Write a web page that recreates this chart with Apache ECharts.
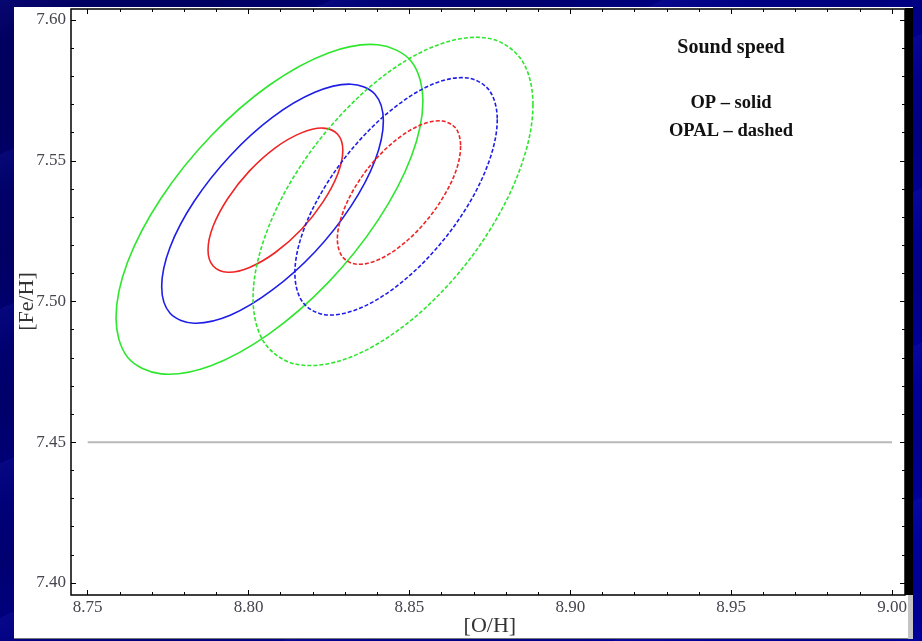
<!DOCTYPE html>
<html>
<head>
<meta charset="utf-8">
<script src="https://cdn.jsdelivr.net/npm/echarts@6/dist/echarts.min.js"></script>
<style>
  html, body { margin: 0; padding: 0; }
  body {
    width: 922px; height: 641px; overflow: hidden; position: relative;
    background:
      repeating-linear-gradient(155deg, rgba(40,40,200,0.18) 0px, rgba(40,40,200,0.0) 40px, rgba(0,0,60,0.15) 90px, rgba(40,40,200,0.0) 140px),
      linear-gradient(135deg, #00005e 0%, #000085 50%, #0000a0 100%);
  }
  #panel { position: absolute; left: 14px; top: 7px; width: 899px; height: 632px; background: #ffffff; border-bottom: 1px solid #777; box-sizing: border-box; }
  #edge { position: absolute; left: 905px; top: 8px; width: 8px; height: 587px; background: #000; }
  #edge2 { position: absolute; left: 908px; top: 595px; width: 5px; height: 44px; background: #c4c4c4; }
  #chart { position: absolute; left: 0; top: 0; width: 922px; height: 641px; }
</style>
</head>
<body>
<div id="panel"></div>
<div id="edge"></div>
<div id="edge2"></div>
<div id="chart"></div>
<script>
// Axis extents and tick spacing
const xRange = [8.75, 9.00];
const yRange = [7.40, 7.60];
const xStep = 0.05;
const yStep = 0.05;

// Reference level for [Fe/H]
const feRefLine = [[8.75, 7.45], [9.00, 7.45]];

// Confidence contours, OP opacities (solid)
const opInner = [[8.8293,7.5537],[8.8277,7.5452],[8.8231,7.5353],[8.8164,7.5256],[8.8083,7.5174],[8.8003,7.5121],[8.7936,7.5104],[8.7890,7.5126],[8.7874,7.5183],[8.7890,7.5268],[8.7936,7.5367],[8.8003,7.5464],[8.8083,7.5546],[8.8164,7.5599],[8.8231,7.5616],[8.8277,7.5594]];
const opMiddle = [[8.8419,7.5641],[8.8393,7.5501],[8.8318,7.5338],[8.8206,7.5176],[8.8074,7.5041],[8.7943,7.4951],[8.7831,7.4923],[8.7756,7.4958],[8.7730,7.5053],[8.7756,7.5193],[8.7831,7.5356],[8.7943,7.5518],[8.8074,7.5654],[8.8206,7.5743],[8.8318,7.5772],[8.8393,7.5736]];
const opOuter = [[8.8542,7.5713],[8.8506,7.5515],[8.8402,7.5288],[8.8248,7.5068],[8.8065,7.4886],[8.7883,7.4772],[8.7728,7.4743],[8.7624,7.4802],[8.7588,7.4942],[8.7624,7.5140],[8.7728,7.5367],[8.7883,7.5588],[8.8065,7.5769],[8.8248,7.5883],[8.8402,7.5912],[8.8506,7.5853]];

// Confidence contours, OPAL opacities (dashed)
const opalInner = [[8.8659,7.5552],[8.8645,7.5465],[8.8603,7.5367],[8.8541,7.5271],[8.8468,7.5193],[8.8394,7.5144],[8.8332,7.5133],[8.8291,7.5160],[8.8276,7.5222],[8.8291,7.5309],[8.8332,7.5408],[8.8394,7.5504],[8.8468,7.5582],[8.8541,7.5630],[8.8603,7.5641],[8.8645,7.5614]];
const opalMiddle = [[8.8773,7.5647],[8.8749,7.5503],[8.8681,7.5340],[8.8579,7.5182],[8.8459,7.5053],[8.8339,7.4973],[8.8237,7.4953],[8.8168,7.4998],[8.8144,7.5100],[8.8168,7.5244],[8.8237,7.5407],[8.8339,7.5565],[8.8459,7.5694],[8.8579,7.5775],[8.8681,7.5794],[8.8749,7.5749]];
const opalOuter = [[8.8884,7.5700],[8.8851,7.5494],[8.8757,7.5267],[8.8616,7.5053],[8.8449,7.4885],[8.8283,7.4789],[8.8141,7.4779],[8.8047,7.4857],[8.8014,7.5011],[8.8047,7.5217],[8.8141,7.5444],[8.8283,7.5658],[8.8449,7.5826],[8.8616,7.5922],[8.8757,7.5932],[8.8851,7.5854]];

const RED = '#f02424', BLUE = '#1e1ee8', GREEN = '#2ee62e';
const SERIF = "'Liberation Serif', 'DejaVu Serif', serif";

// Each contour is one custom series; its points are mapped through the axes
// and drawn as a single closed, smoothed outline.
function contour(name, pts, color, dashed) {
  return {
    name: name, type: 'custom', coordinateSystem: 'cartesian2d',
    data: pts, silent: true, z: 3, clip: true,
    encode: { x: 0, y: 1 },
    renderItem: function (params, api) {
      if (params.dataIndex !== 0) return null;
      const points = pts.map(p => api.coord(p));
      return {
        type: 'polygon',
        shape: { points: points, smooth: 0.34 },
        style: { fill: 'none', stroke: color, lineWidth: 1.6, lineDash: dashed ? [4, 2] : null }
      };
    }
  };
}

const chart = echarts.init(document.getElementById('chart'), null, { renderer: 'canvas' });

// Plot frame edges in pixels; the grid itself spans the labelled tick range
const frame = { left: 71, right: 905, top: 9, bottom: 595 };
const grid = { left: 87.7, right: 922 - 892, top: 20, bottom: 641 - 583 };

const tickLabel = { fontFamily: SERIF, fontSize: 17, color: '#45454f' };
const tickStyle = { show: true, inside: true, length: 5, lineStyle: { color: '#000', width: 1 } };
const minorStyle = { show: true, splitNumber: 5, length: 3, lineStyle: { color: '#000', width: 1 } };

const option = {
  backgroundColor: 'transparent',
  animation: false,
  grid: Object.assign({ containLabel: false, outerBoundsMode: 'none' }, grid),
  xAxis: [
    {
      type: 'value', min: xRange[0], max: xRange[1], interval: xStep,
      position: 'bottom', offset: frame.bottom - (641 - grid.bottom),
      name: '[O/H]', nameLocation: 'middle', nameGap: 20, nameMoveOverlap: false,
      nameTextStyle: { fontFamily: SERIF, fontSize: 22, color: '#333' },
      axisLine: { show: false },
      axisTick: tickStyle, minorTick: minorStyle,
      splitLine: { show: false },
      axisLabel: Object.assign({ margin: 4, formatter: v => v.toFixed(2) }, tickLabel)
    },
    {
      type: 'value', min: xRange[0], max: xRange[1], interval: xStep,
      position: 'top', offset: grid.top - frame.top,
      axisLine: { show: false },
      axisTick: tickStyle, minorTick: minorStyle,
      splitLine: { show: false },
      axisLabel: { show: false }
    }
  ],
  yAxis: [
    {
      type: 'value', min: yRange[0], max: yRange[1], interval: yStep,
      position: 'left', offset: grid.left - frame.left,
      name: '[Fe/H]', nameLocation: 'middle', nameGap: 33, nameRotate: 90, nameMoveOverlap: false,
      nameTextStyle: { fontFamily: SERIF, fontSize: 22, color: '#333' },
      axisLine: { show: false },
      axisTick: tickStyle, minorTick: minorStyle,
      splitLine: { show: false },
      axisLabel: Object.assign({ margin: 5, formatter: v => v.toFixed(2) }, tickLabel)
    },
    {
      type: 'value', min: yRange[0], max: yRange[1], interval: yStep,
      position: 'right', offset: frame.right - (922 - grid.right),
      axisLine: { show: false },
      axisTick: tickStyle, minorTick: minorStyle,
      splitLine: { show: false },
      axisLabel: { show: false }
    }
  ],
  graphic: [
    {
      type: 'rect', z: 100, silent: true,
      shape: { x: frame.left, y: frame.top, width: frame.right - frame.left, height: frame.bottom - frame.top },
      style: { fill: null, stroke: '#000', lineWidth: 1.5 }
    },
    {
      type: 'text', z: 100, silent: true,
      style: { text: 'Sound speed', x: 731, y: 48, align: 'center', verticalAlign: 'middle',
               font: 'bold 20px ' + SERIF, fill: '#111' }
    },
    {
      type: 'text', z: 100, silent: true,
      style: { text: 'OP – solid', x: 731, y: 103, align: 'center', verticalAlign: 'middle',
               font: 'bold 18.5px ' + SERIF, fill: '#111' }
    },
    {
      type: 'text', z: 100, silent: true,
      style: { text: 'OPAL – dashed', x: 731, y: 131, align: 'center', verticalAlign: 'middle',
               font: 'bold 18.5px ' + SERIF, fill: '#111' }
    }
  ],
  series: [
    {
      name: 'reference', type: 'line', data: feRefLine, showSymbol: false, symbol: 'none',
      silent: true, z: 2, lineStyle: { color: '#b9b9b9', width: 2 }
    },
    contour('OP outer', opOuter, GREEN, false),
    contour('OP middle', opMiddle, BLUE, false),
    contour('OP inner', opInner, RED, false),
    contour('OPAL outer', opalOuter, GREEN, true),
    contour('OPAL middle', opalMiddle, BLUE, true),
    contour('OPAL inner', opalInner, RED, true)
  ]
};

chart.setOption(option);
</script>
</body>
</html>
